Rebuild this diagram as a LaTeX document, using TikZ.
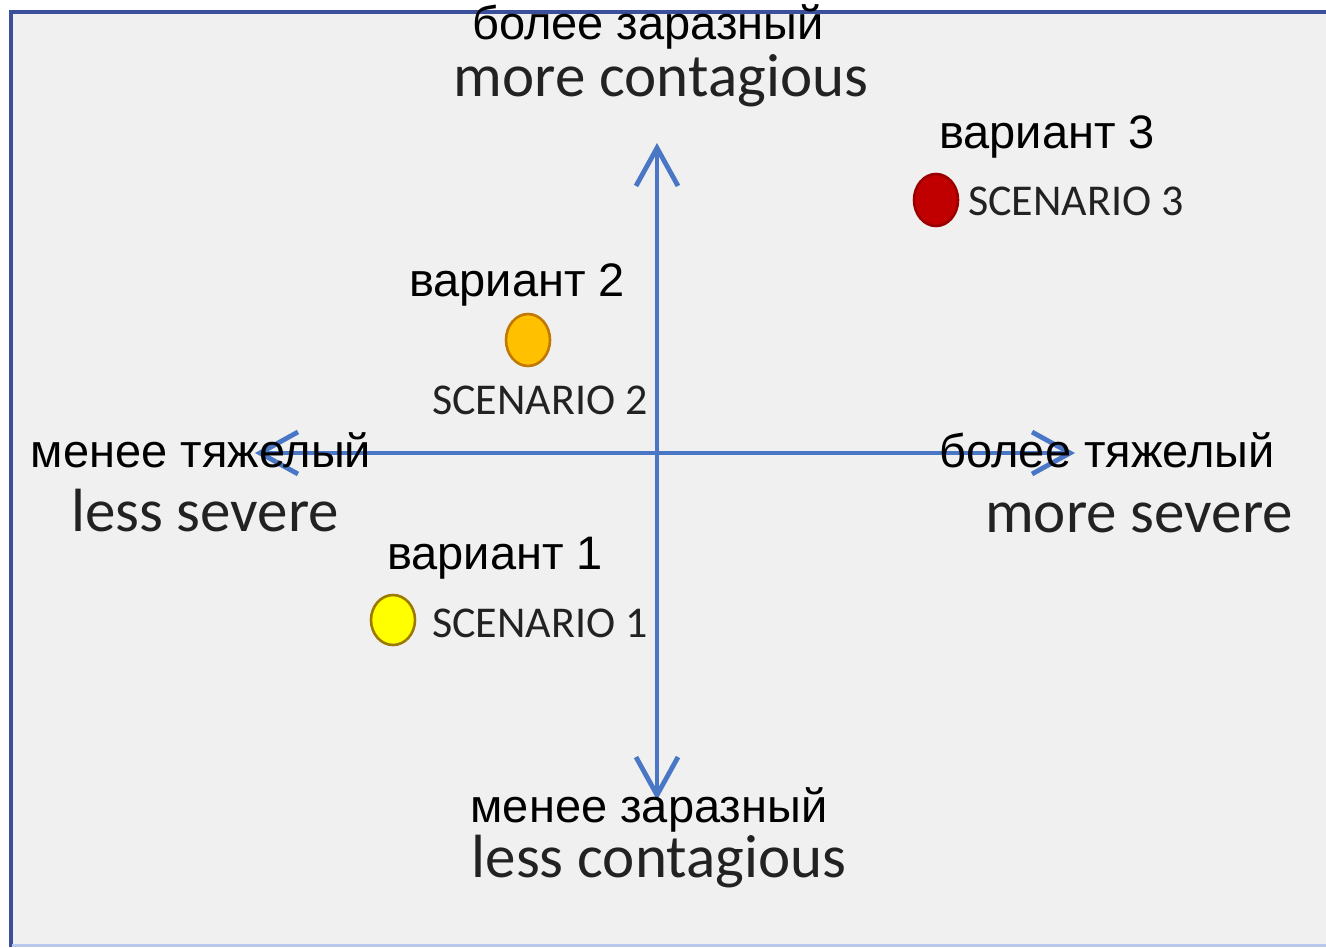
\documentclass[tikz,border=0pt]{standalone}
\usepackage{fontspec}
\setmainfont{Liberation Sans}
\newfontfamily\engfont{Carlito}
\usetikzlibrary{arrows.meta,shapes.geometric}
\definecolor{axisblue}{HTML}{4A76C6}
\definecolor{framedark}{HTML}{3B4F9A}
\definecolor{framelight}{HTML}{B8C8EC}
\definecolor{bggray}{HTML}{F0F0F0}
\definecolor{redfill}{HTML}{C00000}
\definecolor{redline}{HTML}{9A0000}
\definecolor{orfill}{HTML}{FFC000}
\definecolor{orline}{HTML}{C07800}
\definecolor{yelfill}{HTML}{FFFF00}
\definecolor{yelline}{HTML}{9C7A00}
\definecolor{engtext}{HTML}{222222}
\begin{document}
\begin{tikzpicture}[x=0.5pt,y=-0.5pt,
  rutext/.style={inner sep=0pt,font=\fontsize{23.5}{26}\selectfont,text=black},
  bigeng/.style={inner sep=0pt,font=\engfont\fontsize{30.5}{33}\selectfont,text=engtext},
  sceng/.style={inner sep=0pt,font=\engfont\fontsize{22}{25}\selectfont,text=engtext},
  axis/.style={draw=axisblue,line width=2.4pt,{Straight Barb[length=19pt,width=21pt]}-{Straight Barb[length=19pt,width=21pt]}},
  dot/.style={ellipse,inner sep=0pt,minimum width=22pt,minimum height=26pt,line width=1.3pt}]
\useasboundingbox (0,0) rectangle (1326,947);
\fill[white] (0,0) rectangle (1326,947);
\fill[bggray] (10,12) rectangle (1326,947);
\draw[framedark,line width=1.8pt] (9,12) -- (1326,12);
\draw[framedark,line width=1.8pt] (11,11) -- (11,947);
\draw[framelight,line width=1.2pt] (12,945.5) -- (1326,945.5);
% axes
\coordinate (vt) at (657,143);
\coordinate (vb) at (657,800);
\coordinate (hl) at (255,453);
\coordinate (hr) at (1075,453);
\draw[axis] (vb) -- (vt);
\draw[axis] (hl) -- (hr);
% dots
\node[dot,draw=redline,fill=redfill] (s3) at (936,200) {};
\node[dot,draw=orline,fill=orfill] (s2) at (528,340) {};
\node[dot,draw=yelline,fill=yelfill,minimum height=25pt] (s1) at (393,620) {};
% labels
\node[rutext] (tru) at (648,27) {более заразный};
\node[bigeng] (ten) at (661,81) {more contagious};
\node[rutext] (bru) at (649,810) {менее заразный};
\node[bigeng] (ben) at (659,862) {less contagious};
\node[rutext] (lru) at (201,450) {менее тяжелый};
\node[bigeng] (len) at (205,511) {less severe};
\node[rutext] (rru) at (1107,450) {более тяжелый};
\node[bigeng] (ren) at (1139,518) {more severe};
\node[rutext] (v3) at (1047,137) {вариант 3};
\node[sceng] (c3) at (1076,201) {SCENARIO 3};
\node[rutext] (v2) at (517,285) {вариант 2};
\node[sceng] (c2) at (540,400) {SCENARIO 2};
\node[rutext] (v1) at (495,558) {вариант 1};
\node[sceng] (c1) at (540,623) {SCENARIO 1};
\end{tikzpicture}
\end{document}
